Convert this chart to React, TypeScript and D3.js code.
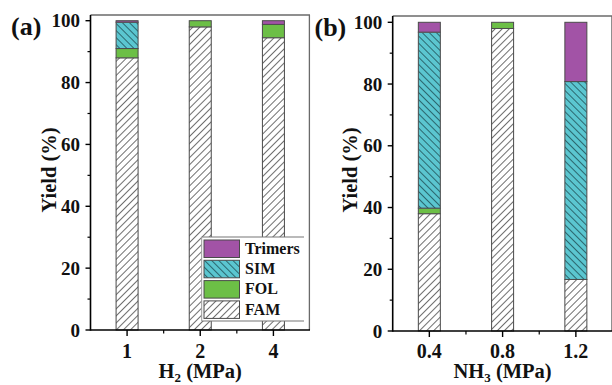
import React from "react";
import * as d3 from "d3";

const SERIES = ["FAM", "FOL", "SIM", "Trimers"];
const LEGEND_ORDER = ["Trimers", "SIM", "FOL", "FAM"];

const CATS_A = ["1", "2", "4"];
const FAM_A = [88, 98, 94.5];
const FOL_A = [3, 2, 4.3];
const SIM_A = [8.5, 0, 0];
const TRIM_A = [0.5, 0, 1.2];

const CATS_B = ["0.4", "0.8", "1.2"];
const FAM_B = [38, 98, 16.7];
const FOL_B = [1.8, 2, 0];
const SIM_B = [57, 0, 64.1];
const TRIM_B = [3.2, 0, 19.2];

const Y_TICKS = [0, 20, 40, 60, 80, 100];
const Y_MINOR = [10, 30, 50, 70, 90];

const FONT = "'Liberation Serif', 'Times New Roman', serif";

const FILLS: Record<string, string> = {
  FAM: "url(#hatchFAM)",
  FOL: "#6CBF46",
  SIM: "url(#hatchSIM)",
  Trimers: "#A253A6",
};

type PanelProps = {
  left: number;
  right: number;
  top: number;
  y0: number;
  y100: number;
  cats: string[];
  fam: number[];
  fol: number[];
  sim: number[];
  trim: number[];
  label: string;
  labelX: number;
  labelY: number;
  xTitleMain: string;
  yTitleX: number;
  legend?: boolean;
};

function Panel(p: PanelProps) {
  const x = d3.scalePoint<string>().domain(p.cats).range([p.left, p.right]).padding(0.5);
  const y = d3.scaleLinear().domain([0, 100]).range([p.y0, p.y100]);
  const rows = p.cats.map((c, i) => ({
    cat: c,
    FAM: p.fam[i],
    FOL: p.fol[i],
    SIM: p.sim[i],
    Trimers: p.trim[i],
  }));
  const stack = d3.stack<any>().keys(SERIES)(rows);
  const barW = 22;
  const step = x.step();
  const minorX = p.cats.slice(0, -1).map((c) => (x(c) as number) + step / 2);

  const legX = 201.7;
  const legY = 237;
  const legR = 304;
  const legB = 321;

  return (
    <g>
      {/* bars */}
      {stack.map((layer) =>
        layer.map((d, i) => {
          const h = y(d[0]) - y(d[1]);
          if (h <= 0.01) return null;
          const cx = x(p.cats[i]) as number;
          return (
            <g key={layer.key + i}>
              <rect x={cx - barW / 2} y={y(d[1])} width={barW} height={h} fill="#fff" />
              <rect
                x={cx - barW / 2}
                y={y(d[1])}
                width={barW}
                height={h}
                fill={FILLS[layer.key]}
                stroke="#4a4a4a"
                strokeWidth={1}
              />
            </g>
          );
        })
      )}

      {/* legend */}
      {p.legend && (
        <g>
          <rect x={legX} y={legY} width={legR - legX} height={legB - legY} fill="#fff" />
          <line x1={legX} x2={legR} y1={legY} y2={legY} stroke="#777" strokeWidth={1.2} />
          <line x1={legX} x2={legR} y1={legB} y2={legB} stroke="#777" strokeWidth={1.2} />
          <line x1={legX} x2={legX} y1={legY} y2={legB} stroke="#999" strokeWidth={1} />
          {LEGEND_ORDER.map((k, i) => {
            const ty = 240 + i * 20.3;
            return (
              <g key={k}>
                <rect x={204} y={ty} width={35.5} height={17.5} fill="#fff" />
                <rect x={204} y={ty} width={35.5} height={17.5} fill={FILLS[k]} stroke="#4a4a4a" strokeWidth={1} />
                <text x={245} y={ty + 13.6} fontFamily={FONT} fontWeight="bold" fontSize={16} fill="#111">
                  {k}
                </text>
              </g>
            );
          })}
        </g>
      )}

      {/* frame top/right */}
      <line x1={p.left} x2={p.right} y1={p.top} y2={p.top} stroke="#6a6a6a" strokeWidth={1.3} />
      <line x1={p.right - 0.6} x2={p.right - 0.6} y1={p.top} y2={p.y0} stroke="#6a6a6a" strokeWidth={1.3} />

      {/* axes */}
      <line x1={p.left} x2={p.left} y1={p.top} y2={p.y0 + 0.8} stroke="#000" strokeWidth={1.6} />
      <line x1={p.left} x2={p.right} y1={p.y0} y2={p.y0} stroke="#000" strokeWidth={1.6} />

      {Y_TICKS.map((t) => (
        <g key={"yt" + t}>
          <line x1={p.left - 5} x2={p.left} y1={y(t)} y2={y(t)} stroke="#000" strokeWidth={1.4} />
          <text
            x={p.left - 10.5}
            y={y(t)}
            dy="0.35em"
            textAnchor="end"
            fontFamily={FONT}
            fontWeight="bold"
            fontSize={19}
            fill="#111"
          >
            {t}
          </text>
        </g>
      ))}
      {Y_MINOR.map((t) => (
        <line key={"ym" + t} x1={p.left - 3} x2={p.left} y1={y(t)} y2={y(t)} stroke="#000" strokeWidth={1.2} />
      ))}

      {p.cats.map((c) => (
        <g key={"xt" + c}>
          <line x1={x(c)} x2={x(c)} y1={p.y0} y2={p.y0 + 6} stroke="#000" strokeWidth={1.4} />
          <text
            x={x(c)}
            y={357.5}
            textAnchor="middle"
            fontFamily={FONT}
            fontWeight="bold"
            fontSize={20}
            fill="#111"
          >
            {c}
          </text>
        </g>
      ))}
      {minorX.map((mx, i) => (
        <line key={"xm" + i} x1={mx} x2={mx} y1={p.y0} y2={p.y0 + 3.5} stroke="#000" strokeWidth={1.2} />
      ))}

      {/* x title */}
      <text
        x={(p.left + p.right) / 2}
        y={377.5}
        textAnchor="middle"
        fontFamily={FONT}
        fontWeight="bold"
        fontSize={20.5}
        fill="#111"
      >
        {p.xTitleMain}
        <tspan fontSize={13} dy={4}>
          {p.xTitleMain === "H" ? "2" : "3"}
        </tspan>
        <tspan dy={-4}> (MPa)</tspan>
      </text>

      {/* y title */}
      <text
        transform={`translate(${p.yTitleX},170) rotate(-90)`}
        textAnchor="middle"
        fontFamily={FONT}
        fontWeight="bold"
        fontSize={20.5}
        fill="#111"
      >
        Yield (%)
      </text>

      {/* panel label */}
      <text x={p.labelX} y={p.labelY} fontFamily={FONT} fontWeight="bold" fontSize={26} fill="#111">
        {p.label}
      </text>
    </g>
  );
}

export default function App() {
  return (
    <svg
      width={612}
      height={385}
      viewBox="0 0 612 385"
      style={{ position: "absolute", left: 0, top: 0, background: "#fff" }}
    >
      <defs>
        <pattern id="hatchFAM" width={5} height={5} patternUnits="userSpaceOnUse" patternTransform="rotate(45)">
          <rect x={0} y={0} width={5} height={5} fill="#fff" />
          <line x1={0.5} y1={0} x2={0.5} y2={5} stroke="#4a4a4a" strokeWidth={0.8} />
        </pattern>
        <pattern id="hatchSIM" width={5} height={5} patternUnits="userSpaceOnUse" patternTransform="rotate(-45)">
          <rect x={0} y={0} width={5} height={5} fill="#5BC6D0" />
          <line x1={0.5} y1={0} x2={0.5} y2={5} stroke="#1f4f55" strokeWidth={0.8} />
        </pattern>
      </defs>
      <Panel
        left={90.5}
        right={310}
        top={15}
        y0={330}
        y100={20.7}
        cats={CATS_A}
        fam={FAM_A}
        fol={FOL_A}
        sim={SIM_A}
        trim={TRIM_A}
        label="(a)"
        labelX={11}
        labelY={35}
        xTitleMain="H"
        yTitleX={55.5}
        legend
      />
      <Panel
        left={392.7}
        right={612.5}
        top={16}
        y0={331}
        y100={22.3}
        cats={CATS_B}
        fam={FAM_B}
        fol={FOL_B}
        sim={SIM_B}
        trim={TRIM_B}
        label="(b)"
        labelX={314.5}
        labelY={36}
        xTitleMain="NH"
        yTitleX={357}
      />
    </svg>
  );
}
